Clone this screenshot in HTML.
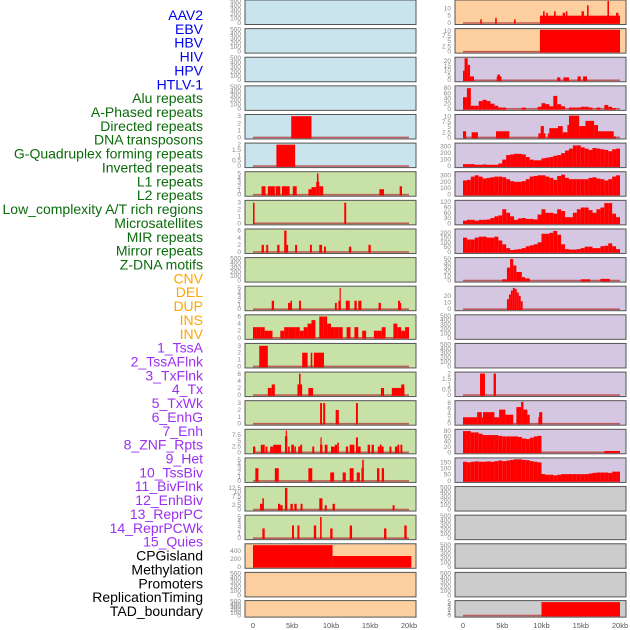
<!DOCTYPE html>
<html><head><meta charset="utf-8"><style>
body{margin:0;background:#fff;}
svg{display:block;font-family:"Liberation Sans",sans-serif;}
</style></head><body>
<svg id="chart" width="630" height="630" viewBox="0 0 630 630"></svg>
<script>
// ---- data ----
const labels=["AAV2","EBV","HBV","HIV","HPV","HTLV-1","Alu repeats","A-Phased repeats","Directed repeats","DNA transposons","G-Quadruplex forming repeats","Inverted repeats","L1 repeats","L2 repeats","Low_complexity A/T rich regions","Microsatellites","MIR repeats","Mirror repeats","Z-DNA motifs","CNV","DEL","DUP","INS","INV","1_TssA","2_TssAFlnk","3_TxFlnk","4_Tx","5_TxWk","6_EnhG","7_Enh","8_ZNF_Rpts","9_Het","10_TssBiv","11_BivFlnk","12_EnhBiv","13_ReprPC","14_ReprPCWk","15_Quies","CPGisland","Methylation","Promoters","ReplicationTiming","TAD_boundary"];
const labelGroups=["v","v","v","v","v","v","r","r","r","r","r","r","r","r","r","r","r","r","r","s","s","s","s","s","c","c","c","c","c","c","c","c","c","c","c","c","c","c","c","o","o","o","o","o"];
const xTickLabels=["0","5kb","10kb","15kb","20kb"];
const xTickValues=[0,5,10,15,20];
const T500=[0,100,200,300,400,500];
// segments [startKb,endKb,value]
const L4=[[4.9,7.5,3]];
const L5=[[3,5.4,2]];
const L6=[[1.1,1.6,2],[1.9,2.8,2],[2.9,3.5,2],[3.7,4.7,2],[5.1,5.6,2],[7.1,7.5,1.3],[7.5,8.1,1.8],[8.1,8.5,3],[8.2,8.4,5],[8.5,9,2],[16.2,16.8,1.3],[18.8,19.1,2]];
const L7=[[0,0.2,3],[11.7,11.95,3]];
const L8=[[1.1,1.4,2],[1.7,1.95,2],[3.1,3.4,2],[4.0,4.3,6],[4.3,4.5,2],[5.4,5.65,2],[7.3,7.55,2],[8.5,8.85,2],[9.1,9.35,1.5],[12.3,12.6,1.5],[14.8,15.1,2]];
const L10=[[2.4,2.7,2],[4.5,4.8,1.5],[4.8,5,2],[5.9,6.15,2],[10.5,10.75,1.5],[10.95,11.25,2],[11.1,11.25,5],[11.9,12.4,2],[13,13.3,2],[13.5,13.9,2],[16.1,16.4,1.5],[18.6,18.85,2],[18.85,19,1.5]];
const L11bins=[3,3,3,2,2,0,0,2,3,3,3,3,2,3,4,5,0,6,6,4,3,3,3,0,3,0,3,0,2,0,0,2,2,3,0,0,4,3,2,3];
const L12=[[0.8,1.9,3],[6.3,7.0,2],[7.4,7.6,2],[7.8,9.1,2]];
const L13=[[1.9,2.4,2],[2.4,2.8,3],[5.7,6.3,3],[5.9,6.1,6],[7.1,7.7,2],[16.4,16.8,2],[17.8,19.4,2],[19,19.4,3]];
const L14=[[8.6,8.85,3],[9.0,9.25,3],[10.6,11,2],[13.2,13.45,3]];
const L15=[[0,0.3,2.5],[1,1.5,3.3],[1.6,1.85,2.5],[2.2,2.6,2.5],[2.6,3.6,3.3],[4.1,4.4,7],[4.2,4.35,9.5],[4.5,4.7,2.5],[4.9,5.25,3.3],[5.3,5.5,2.5],[5.8,6.05,2.5],[6.05,6.3,3.3],[7.6,7.85,2.5],[8.6,8.9,3.3],[8.65,8.8,6.5],[9.2,9.55,3.3],[10,10.5,2.5],[10.5,10.8,3.3],[10.8,11,4.2],[11.9,12.2,2.5],[12.4,13,3.3],[13.2,13.45,6.5],[13.45,13.8,2.5],[14.7,15,3.3],[15.2,15.5,3.3],[16,16.25,2.5],[16.25,16.5,3.3],[16.5,16.75,2.5],[17.5,17.75,2.5],[18.2,18.5,2.5],[18.5,18.75,3.3],[18.9,19.15,3.3]];
const L16=[[0.3,0.7,3],[2.8,3.3,3],[7.1,7.6,3],[9.9,10.4,2],[11.5,11.9,2],[12.4,12.9,3],[13.3,13.7,2],[13.9,14.2,3],[14.0,14.2,5],[15.9,16.2,3],[16.5,16.8,3]];
const L17=[[0.9,1.2,3.3],[1.2,1.4,6.5],[3.2,3.5,3.3],[3.5,3.8,2.5],[4.1,4.4,12.5],[4.8,5.1,3.3],[5.3,5.6,3.3],[6.1,6.35,3.3],[8.5,8.9,6.5],[9.2,9.45,2.5],[10.2,10.5,3.3],[17.9,18.15,2.5]];
const L18=[[1.2,1.5,2.3],[5,5.25,3],[5.7,5.95,3],[7.8,8.1,3],[8.6,8.8,5],[9.9,10.2,2.3],[12.4,12.7,3],[16.8,17.1,2.3],[19.4,19.7,3]];
const L19=[[0,10.2,550],[10.2,20.3,275]];
const R0=[[9.8,20,5],[2.2,2.4,2.5],[4.1,4.3,3.5],[6.5,6.7,2.5],[10.2,10.4,8],[10.6,10.8,7],[11.6,11.8,8],[12.7,13,7],[13.1,13.3,8],[15.1,15.4,8],[15.8,16,12],[18.4,18.6,15],[19.5,19.8,7]];
const R1=[[9.8,20,10.5]];
const R2=[[0,0.2,10],[0.2,0.6,23],[0.6,0.9,16],[0.9,1.4,4],[4.3,4.9,4],[4.4,4.7,6],[12,12.4,3],[12.8,13.5,3],[14.6,15,4],[15.3,15.8,4]];
const R3bins=[45,80,12,12,30,35,30,20,12,5,5,0,0,0,0,5,0,0,0,8,22,18,10,50,18,10,0,5,5,5,8,8,5,0,5,0,15,8,3,0];
const R4=[[0,0.4,3],[1.1,1.9,2.5],[4.2,4.9,3],[4.9,5.9,3],[9.6,9.9,2],[9.9,10.3,5.5],[10.3,10.5,2],[10.8,11,2],[11,12.1,4.5],[12.1,12.7,5.5],[12.7,13.3,2.5],[13.3,13.5,6],[13.5,14.8,10.5],[14.8,15.6,5.5],[15.6,16.7,8],[16.7,17.2,6],[17.2,19.2,3],[19.2,19.5,0.5]];
const R5bins=[30,30,30,20,20,25,20,20,20,40,100,170,180,190,190,180,140,100,90,90,120,130,140,160,170,200,240,270,320,320,290,270,250,280,270,260,250,230,260,270];
const R6bins=[220,230,280,300,280,250,260,270,280,280,270,240,210,200,200,210,240,280,290,300,300,280,260,230,290,310,260,240,240,240,240,240,260,270,250,240,220,240,280,300];
const R7bins=[15,20,20,15,20,20,22,30,40,45,80,60,40,20,28,30,25,25,22,50,80,60,60,55,80,70,35,35,60,80,90,90,75,60,80,90,115,115,55,35];
const R8bins=[150,130,130,150,160,160,150,150,160,120,80,40,20,25,30,40,60,70,80,100,190,190,200,220,180,80,30,25,25,30,40,55,55,40,40,60,65,90,60,30];
const R9=[[5.0,5.6,3],[5.6,6.0,30],[6.0,6.4,50],[6.4,6.8,35],[6.8,7.5,20],[7.5,7.9,8],[7.9,8.5,5],[15,16.2,3],[17.5,18.7,4]];
const R10=[[5.6,5.85,15],[5.85,6.1,22],[6.1,6.35,28],[6.35,6.6,32],[6.6,6.85,30],[6.85,7.1,25],[7.1,7.35,20],[7.35,7.6,12]];
const R13=[[2.17,2.8,2],[3.9,4.2,2]];
const R14=[[0,1.8,2.5],[1.8,2.4,4.5],[2.4,2.55,2.5],[2.55,4.0,4.5],[4.0,4.6,2.5],[4.6,5.4,5.5],[5.4,6.4,3.5],[6.8,7.4,6.5],[7.4,7.7,8.5],[7.7,8.2,5.5],[8.2,8.5,3.5],[9.6,9.8,2.5],[9.7,10.1,4.5]];
const R15bins=[80,80,75,75,70,65,65,65,65,62,60,60,60,60,58,52,50,55,60,62,0,0,0,0,0,0,0,0,0,0,0,0,0,0,0,0,5,5,5,5];
const R16bins=[155,150,155,158,155,155,158,155,160,165,160,165,170,175,175,170,168,160,155,150,55,50,50,45,50,55,55,55,55,55,55,55,60,65,68,68,68,65,75,75];
const R21=[[10,20,5]];
// ---- rendering ----
const BG={b:"#c9e4ec",g:"#c8e1a6",o:"#fecf9e",p:"#d5c6e1",y:"#cccccc"};
const LC={v:"#0000ee",r:"#0b6b0b",s:"#ffa500",c:"#9b30f0",o:"#000000"};
function binsToSegs(b){const s=[];for(let i=0;i<b.length;i++){if(b[i]>0)s.push([i*0.5,(i+1)*0.5,b[i]]);}return s;}
const leftCol=[
 ["b",500,T500,null],["b",500,T500,null],["b",500,T500,null],["b",500,T500,null],
 ["b",3.1,[0,1,2,3],L4],["b",2.05,[0,0.5,1,1.5,2],L5],
 ["g",5.2,[0,1,2,3,4,5],L6],["g",3.2,[0,1,2,3],L7],["g",6.2,[0,2,4,6],L8],["g",500,T500,null],
 ["g",5.2,[0,1,2,3,4,5],L10],["g",6.2,[0,2,4,6],binsToSegs(L11bins)],["g",3.2,[0,1,2,3],L12],
 ["g",6.2,[0,2,4,6],L13],["g",3.2,[0,1,2,3],L14],["g",9.6,[0,2.5,5,7.5],L15],
 ["g",5.2,[0,1,2,3,4,5],L16],["g",12.7,[0,2.5,5,7.5,10,12.5],L17],["g",5.2,[0,1,2,3,4,5],L18],
 ["o",560,[0,200,400],L19],["o",500,T500,null],["o",500,T500,null]];
const rightCol=[
 ["o",15,[0,5,10],R0],["o",10.6,[0,2.5,5,7.5,10],R1],["p",23,[0,5,10,15,20],R2],
 ["p",85,[0,20,40,60,80],binsToSegs(R3bins)],["p",10.6,[0,2.5,5,7.5,10],R4],
 ["p",340,[0,100,200,300],binsToSegs(R5bins)],["p",340,[0,100,200,300],binsToSegs(R6bins)],
 ["p",125,[0,30,60,90,120],binsToSegs(R7bins)],["p",230,[0,50,100,150,200],binsToSegs(R8bins)],
 ["p",51,[0,10,20,30,40,50],R9],["p",33,[0,10,20],R10],["p",500,T500,null],["p",500,T500,null],
 ["p",2.05,[0,0.5,1,1.5,2],R13],["p",8.6,[0,2,4,6,8],R14],["p",83,[0,20,40,60,80],binsToSegs(R15bins)],
 ["p",178,[0,50,100,150],binsToSegs(R16bins)],
 ["y",500,T500,null],["y",500,T500,null],["y",500,T500,null],["y",500,T500,null],["y",5.2,[0,1,2,3,4,5],R21]];
const NS="http://www.w3.org/2000/svg";
const svg=document.getElementById("chart");
function el(t,a,p){const e=document.createElementNS(NS,t);for(const k in a)e.setAttribute(k,a[k]);(p||svg).appendChild(e);return e;}
// labels
labels.forEach((t,i)=>{
 const e=el("text",{x:203,y:20+i*13.86,"text-anchor":"end","font-size":"14",fill:LC[labelGroups[i]]});
 e.textContent=t;
 
 
});
function drawCol(col,px,x0kb,pxkb,side){
 col.forEach((p,i)=>{
  const top=i===21?600.6:i*28.62, h=i===21?16.5:24.5;
  const g=el("g",{});
  
  
  el("rect",{x:px,y:top,width:171,height:h,fill:BG[p[0]],stroke:"#555",
   "stroke-width":1},g);
  const y0=top+h-1.5, sc=(h-2.5)/p[1];
  const yv=v=>y0-Math.min(v,p[1])*sc;
  const xv=k=>x0kb+k*pxkb;
  p[2].forEach(t=>{
   const tx=el("text",{x:px-4,y:yv(t)+2,"text-anchor":"end","font-size":"6.5",fill:"#888"},g);
   tx.textContent=String(t);
   
   
  });
  if(p[3]){
   el("line",{x1:xv(0),x2:xv(20),y1:y0,y2:y0,stroke:"#b84040","stroke-width":1.6,opacity:0.8},g);
   p[3].forEach(s=>{
    const b=el("rect",{x:xv(s[0]),y:yv(s[2]),width:Math.max(1,xv(s[1])-xv(s[0])),height:y0+0.8-yv(s[2]),fill:"#ff0000"},g);
    
    
   });
  }
 });
 xTickValues.forEach((v,j)=>{
  const t=el("text",{x:x0kb+v*pxkb,y:628,"text-anchor":"middle","font-size":"7.5",fill:"#555"});
  t.textContent=xTickLabels[j];
  
  
 });
}
drawCol(leftCol,245,253,7.8,"left");
drawCol(rightCol,455,463,7.85,"right");
</script>
</body></html>
